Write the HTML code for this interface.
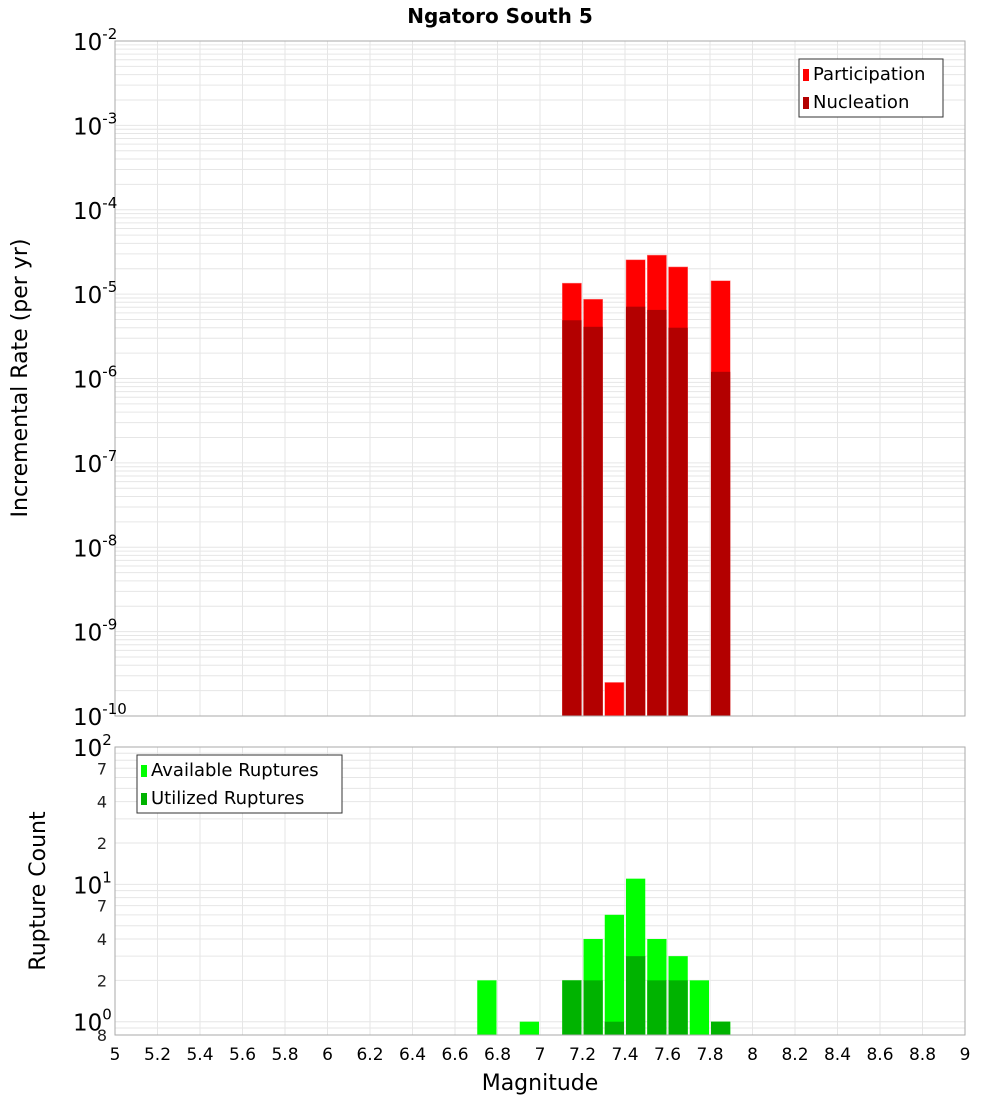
<!DOCTYPE html>
<html><head><meta charset="utf-8"><style>
body{margin:0;background:#fff;font-family:"Liberation Sans","DejaVu Sans",sans-serif}
svg text{font-family:"DejaVu Sans","Liberation Sans",sans-serif}
</style></head><body>
<svg id="c" width="1000" height="1100" xmlns="http://www.w3.org/2000/svg">
<text x="500" y="23" text-anchor="middle" font-size="20" font-weight="bold">Ngatoro South 5</text>
<g id="topPlot"></g>
<g id="botPlot"></g>
<text x="540" y="1090" text-anchor="middle" font-size="22">Magnitude</text>
<text transform="translate(27,378) rotate(-90)" text-anchor="middle" font-size="22">Incremental Rate (per yr)</text>
<text transform="translate(45,891) rotate(-90)" text-anchor="middle" font-size="22">Rupture Count</text>
</svg>
<script>
const mags=[7.15,7.25,7.35,7.45,7.55,7.65,7.85];
const participation=[1.35e-5,8.7e-6,2.5e-10,2.55e-5,2.9e-5,2.1e-5,1.44e-5];
const nucleation=[4.9e-6,4.1e-6,0,7.1e-6,6.5e-6,4.0e-6,1.2e-6];
const countMags=[6.75,6.95,7.15,7.25,7.35,7.45,7.55,7.65,7.75,7.85];
const available=[2,1,2,4,6,11,4,3,2,1];
const utilized=[0,0,2,2,1,3,2,2,0,1];
const xTicks=[5,5.2,5.4,5.6,5.8,6,6.2,6.4,6.6,6.8,7,7.2,7.4,7.6,7.8,8,8.2,8.4,8.6,8.8,9];
const topExps=[-2,-3,-4,-5,-6,-7,-8,-9,-10];

const NS="http://www.w3.org/2000/svg";
const L=115,R=965;
const X=m=>L+(m-5)/4*(R-L);
const T0=41,T1=716;
const YT=v=>T0+(-2-Math.log10(v))/8*(T1-T0);
const B0=747,B1=1035;
const YB=v=>B0+(Math.log10(100)-Math.log10(v))/Math.log10(100/0.8)*(B1-B0);
function el(p,t,a,txt){const e=document.createElementNS(NS,t);for(const k in a)e.setAttribute(k,a[k]);if(txt!==undefined)e.textContent=txt;p.appendChild(e);return e;}
const topG=document.getElementById('topPlot'),botG=document.getElementById('botPlot');

function grid(g,y0,y1,yf,vals){
  for(const t of xTicks){const l=el(g,'line',{x1:X(t),x2:X(t),y1:y0,y2:y1,stroke:'#e6e6e6'});
    
    }
  for(const v of vals){const y=yf(v);if(y<y0-0.5||y>y1+0.5)continue;const l=el(g,'line',{x1:L,x2:R,y1:y,y2:y,stroke:'#e6e6e6'});
    
    }
}
let tv=[];for(let e=-10;e<-2;e++)for(let k=1;k<10;k++)tv.push(k*Math.pow(10,e));tv.push(1e-2);
grid(topG,T0,T1,YT,tv);
let bv=[0.8,0.9];for(let e=0;e<2;e++)for(let k=1;k<10;k++)bv.push(k*Math.pow(10,e));bv.push(100);
grid(botG,B0,B1,YB,bv);

const bw=0.1*(R-L)/4;
mags.forEach((m,i)=>{
  const x=X(m-0.05)+1,w=bw-2;
  const p=participation[i];
  if(p>0){const r=el(topG,'rect',{x:x,y:YT(p),width:w,height:T1-YT(p),fill:'#ff0000',stroke:'#ff8080','stroke-width':0.5});
    
    }
  const n=nucleation[i];
  if(n>0){const r=el(topG,'rect',{x:x,y:YT(n),width:w,height:T1-YT(n),fill:'#b30000'});
    
    }
});
countMags.forEach((m,i)=>{
  const x=X(m-0.05)+1,w=bw-2;
  const a=available[i];
  if(a>0){const r=el(botG,'rect',{x:x,y:YB(a),width:w,height:B1-YB(a),fill:'#00ff00'});
    
    }
  const u=utilized[i];
  if(u>0){const r=el(botG,'rect',{x:x,y:YB(u),width:w,height:B1-YB(u),fill:'#00b300'});
    
    }
});
let f=el(topG,'rect',{x:L,y:T0,width:R-L,height:T1-T0,fill:'none',stroke:'#aaa'});


f=el(botG,'rect',{x:L,y:B0,width:R-L,height:B1-B0,fill:'none',stroke:'#aaa'});



topExps.forEach(e=>{
  const y=YT(Math.pow(10,e));
  const t=el(topG,'text',{x:73,y:y+9,'font-size':23});
  
  
  el(t,'tspan',{},'10');el(t,'tspan',{dy:-11,'font-size':15},String(e));
});
[[100,'2'],[10,'1'],[1,'0']].forEach(([v,e])=>{
  const y=YB(v);
  const t=el(botG,'text',{x:73,y:y+9,'font-size':23});
  
  
  el(t,'tspan',{},'10');el(t,'tspan',{dy:-11,'font-size':15},e);
});
[70,40,20,7,4,2,0.8].forEach(v=>{
  const s=String(v>=10?v/10:(v<1?Math.round(v*10):v));
  const t=el(botG,'text',{x:107,y:YB(v)+6,'font-size':16,'text-anchor':'end',fill:'#222'},s);
  
  
});
xTicks.forEach(t=>{
  const s=Number.isInteger(t)?String(t):t.toFixed(1);
  const e=el(botG,'text',{x:X(t),y:1060,'font-size':17,'text-anchor':'middle'},s);
  
  
});
function legend(g,x,y,w,items,name){
  const lg=el(g,'g',{});
  
  
  el(lg,'rect',{x:x,y:y,width:w,height:58,fill:'#fff',stroke:'#333'});
  items.forEach((it,i)=>{
    el(lg,'rect',{x:x+4,y:y+10+i*28,width:6,height:12,fill:it[1]});
    const t=el(lg,'text',{x:x+14,y:y+21+i*28,'font-size':18},it[0]);
    
    
  });
}
legend(topG,799,59,144,[['Participation','#ff0000'],['Nucleation','#b30000']],'rate-legend');
legend(botG,137,755,205,[['Available Ruptures','#00ff00'],['Utilized Ruptures','#00b300']],'count-legend');
</script>
</body></html>
